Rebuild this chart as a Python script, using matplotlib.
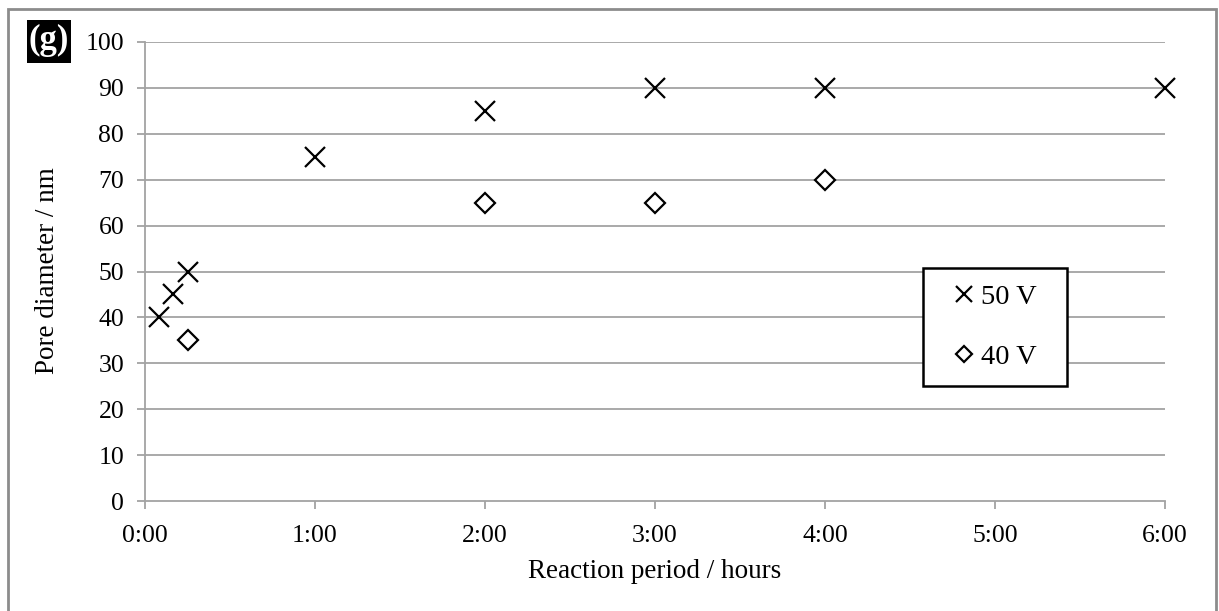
import matplotlib
matplotlib.use("Agg")
import matplotlib.pyplot as plt
from matplotlib.patches import Rectangle
from matplotlib.lines import Line2D

# Data (hours, nm)
hours_50v = [0.083, 0.167, 0.25, 1, 2, 3, 4, 6]
diam_50v = [40, 45, 50, 75, 85, 90, 90, 90]
hours_40v = [0.25, 2, 3, 4]
diam_40v = [35, 65, 65, 70]
x_ticks = [0, 1, 2, 3, 4, 5, 6]
x_tick_labels = ["0:00", "1:00", "2:00", "3:00", "4:00", "5:00", "6:00"]
y_ticks = [0, 10, 20, 30, 40, 50, 60, 70, 80, 90, 100]
series_labels = ["50 V", "40 V"]

plt.rcParams['font.family'] = ['Liberation Serif', 'DejaVu Serif']
FS = 18.5
FS_LAB = 19.5
FS_LEG = 20.5
GRAY = '#a3a3a3'

W, H = 1219, 611
fig = plt.figure(figsize=(W / 100, H / 100), dpi=100)
ax = fig.add_axes([145 / W, 1 - 501 / H, (1165 - 145) / W, (501 - 42) / H])

ax.set_xlim(0, 6)
ax.set_ylim(0, 100)
ax.set_xticks(x_ticks)
ax.set_xticklabels(x_tick_labels)
ax.set_yticks(y_ticks)

for y in y_ticks[1:]:
    ax.axhline(y, color=GRAY, lw=1.3, zorder=1)

for s in ['top', 'right']:
    ax.spines[s].set_visible(False)
for s in ['left', 'bottom']:
    ax.spines[s].set_color(GRAY)
    ax.spines[s].set_linewidth(1.3)

ax.tick_params(axis='both', colors=GRAY, labelcolor='black', labelsize=FS,
               length=6, width=1.3, direction='out')
ax.tick_params(axis='x', pad=11)
ax.tick_params(axis='y', pad=9)

ax.plot(hours_50v, diam_50v, linestyle='none', marker='x', markersize=14,
        markeredgewidth=1.6, color='black', zorder=3, clip_on=False)
ax.plot(hours_40v, diam_40v, linestyle='none', marker='D', markersize=10.5,
        markeredgewidth=1.6, markerfacecolor='white', markeredgecolor='black',
        zorder=3, clip_on=False)

fig.text(655 / W, 1 - 572 / H, "Reaction period / hours", fontsize=FS_LAB,
         ha='center', va='center')
fig.text(48 / W, 1 - 271 / H, "Pore diameter / nm", fontsize=FS_LAB,
         ha='center', va='center', rotation=90)

# (g) label
fig.patches.append(Rectangle((27 / W, 1 - 63 / H), 44 / W, 43 / H,
                             transform=fig.transFigure, facecolor='black',
                             edgecolor='none', zorder=5))
fig.text(49 / W, 1 - 40 / H, "(g)", fontsize=25, fontweight='bold', color='white',
         ha='center', va='center', zorder=6)

# Legend box
fig.patches.append(Rectangle((923 / W, 1 - 386 / H), (1067 - 923) / W, (386 - 268) / H,
                             transform=fig.transFigure, facecolor='white',
                             edgecolor='black', linewidth=1.8, zorder=5))
handles = [Line2D([], [], linestyle='none', marker='x', markersize=12,
                  markeredgewidth=1.6, color='black'),
           Line2D([], [], linestyle='none', marker='D', markersize=8.5,
                  markeredgewidth=1.6, markerfacecolor='white', markeredgecolor='black')]
leg = fig.legend(handles, series_labels, loc='center', frameon=False,
                 bbox_to_anchor=(996 / W, 1 - 327 / H), fontsize=FS_LEG,
                 handlelength=0.6, handletextpad=0.3, labelspacing=1.2)
leg.set_zorder(6)

# Figure border (bottom edge lies outside the image)
fig.patches.append(Rectangle((8 / W, -10 / H), (1216 - 8) / W, (611 - 9 + 10) / H,
                             transform=fig.transFigure, facecolor='none',
                             edgecolor='#8c8c8c', linewidth=2, zorder=0))

fig.savefig("out.png", dpi=100)
